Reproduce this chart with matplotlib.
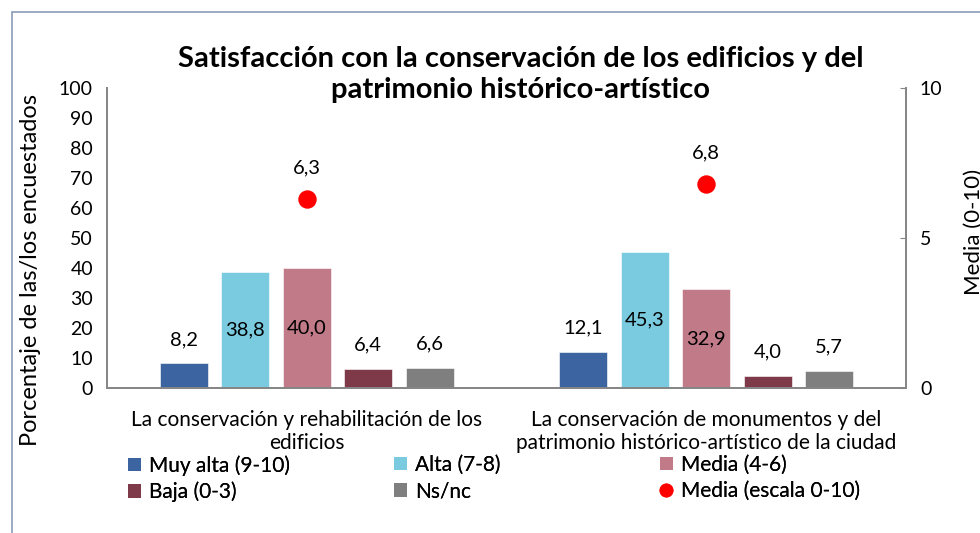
import numpy as np
import matplotlib
matplotlib.use("Agg")
import matplotlib.pyplot as plt
from matplotlib.patches import Rectangle, Patch
from matplotlib.lines import Line2D

plt.rcParams['font.family'] = ['Lato', 'DejaVu Sans']

# ----------- DATA -----------
categorias = ["La conservación y rehabilitación de los\nedificios",
              "La conservación de monumentos y del\npatrimonio histórico-artístico de la ciudad"]
series = ["Muy alta (9-10)", "Alta (7-8)", "Media (4-6)", "Baja (0-3)", "Ns/nc"]
muy_alta = [8.2, 12.1]
alta = [38.8, 45.3]
media = [40.0, 32.9]
baja = [6.4, 4.0]
nsnc = [6.6, 5.7]
media_escala = [6.3, 6.8]
colores = ["#3B64A0", "#7ACBE0", "#C07A88", "#7F3A4A", "#7F7F7F"]

valores = [muy_alta, alta, media, baja, nsnc]

# ----------- FIGURE -----------
fig = plt.figure(figsize=(9.8, 5.33), dpi=100)
ax = fig.add_axes([0.109, 0.272, 0.8155, 0.563])
ax2 = ax.twinx()

# outer chart border (clipped screenshot)
fig.patches.append(Rectangle((12 / 980, -0.5), 2, 1.5 - 12 / 533, transform=fig.transFigure,
                             fill=False, edgecolor="#8A9CBB", linewidth=1.2))

x = np.arange(len(categorias))
width = 0.12
step = 0.154
for i, (vals, col) in enumerate(zip(valores, colores)):
    pos = x + (i - 2) * step
    ax.bar(pos, vals, width, color=col, edgecolor="white", linewidth=0.4, zorder=2)
    for p, v in zip(pos, vals):
        txt = f"{v:.1f}".replace(".", ",")
        ty = v / 2 if v > 20 else v + 8
        ax.text(p, ty, txt, ha="center", va="center", fontsize=14.5, color="black", zorder=3)

ax2.scatter(x, media_escala, s=150, color="#FF0000", zorder=4)
for p, v in zip(x, media_escala):
    ax2.text(p, v + 1.05, f"{v:.1f}".replace(".", ","), ha="center", va="center", fontsize=14.5)

ax.set_xlim(-0.5, 1.5)
ax.set_ylim(0, 100)
ax2.set_ylim(0, 10)
ax.set_yticks(np.arange(0, 101, 10))
ax2.set_yticks([0, 5, 10])
ax.set_xticks(x)
ax.set_xticklabels(categorias, fontsize=15, linespacing=1.2)
ax.tick_params(axis="x", length=0, pad=16)
ax.tick_params(axis="y", length=0, labelsize=14, pad=10)
ax2.tick_params(axis="y", direction="in", length=4, color="#868686", labelsize=14, pad=10)

for sp in ["top"]:
    ax.spines[sp].set_visible(False)
    ax2.spines[sp].set_visible(False)
for a in (ax, ax2):
    for sp in ["left", "right", "bottom"]:
        a.spines[sp].set_color("#868686")
        a.spines[sp].set_linewidth(1.3)

ax.set_ylabel("Porcentaje de las/los encuestados", fontsize=17)
ax.yaxis.set_label_coords(-0.082, 0.393)
ax2.set_ylabel("Media (0-10)", fontsize=16, rotation=90)
ax2.yaxis.set_label_coords(1.072, 0.52)

fig.text(0.531, 1 - 74.5 / 533, "Satisfacción con la conservación de los edificios y del\npatrimonio histórico-artístico",
         ha="center", va="center", fontsize=21, fontweight="bold", linespacing=1.2)

# ----------- LEGEND (3 columns) -----------
handles = [Patch(facecolor=c) for c in colores]
handles.append(Line2D([], [], marker="o", color="#FF0000", linestyle="none", markersize=9))
labels = series + ["Media (escala 0-10)"]
cols = [(0, 3), (1, 4), (2, 5)]
xs = [128, 394, 660]
for (a, b), xp in zip(cols, xs):
    leg = fig.legend([handles[a], handles[b]], [labels[a], labels[b]],
                     loc="upper left", bbox_to_anchor=(xp / 980, 1 - 455 / 533),
                     frameon=False, fontsize=15, handlelength=0.6, handleheight=0.6,
                     handletextpad=0.4, labelspacing=0.3, borderpad=0, borderaxespad=0)
    fig.add_artist(leg)

fig.savefig("out.png", dpi=100)
